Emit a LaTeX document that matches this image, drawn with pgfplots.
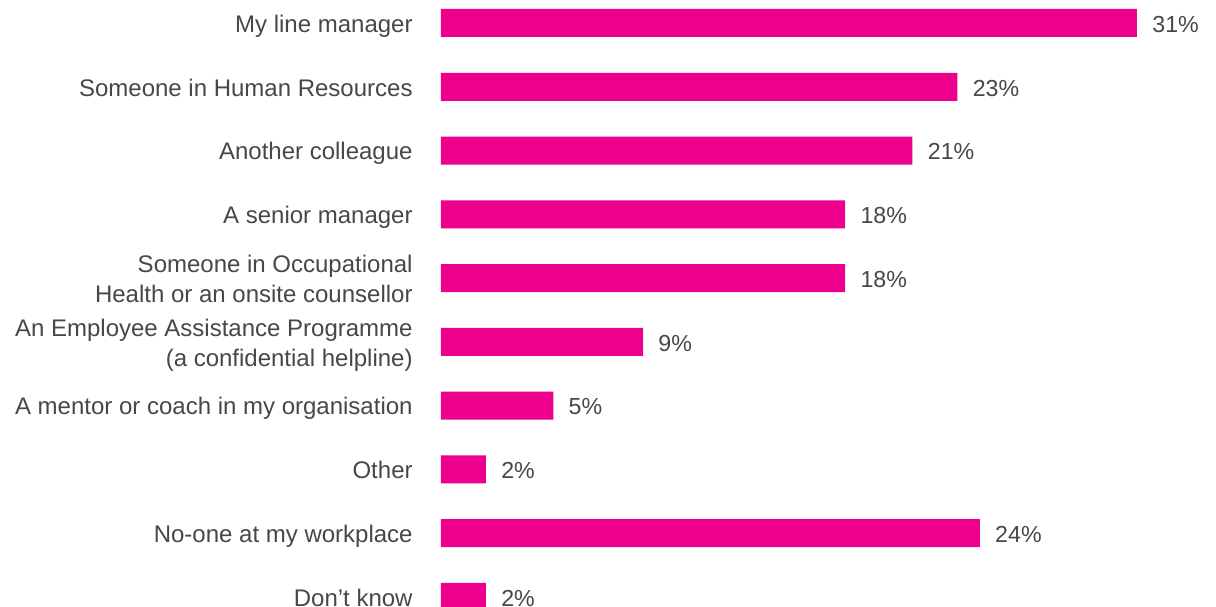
\documentclass[border=0pt]{standalone}
\usepackage{fontspec}
\setmainfont{Liberation Sans}
\usepackage{pgfplots}
\pgfplotsset{compat=1.18}
\definecolor{barpink}{HTML}{EC008C}
\definecolor{txt}{HTML}{474747}
\newcommand{\two}[2]{\raisebox{7.5pt}{\begin{tabular}[t]{@{}r@{}}#1\\#2\end{tabular}}}
\begin{document}
\begin{tikzpicture}
\begin{axis}[
  scale only axis,
  width=348pt, height=303.5pt,
  xbar, bar width=14pt,
  xmin=0, xmax=31,
  ymin=-0.3606, ymax=9.157,
  y dir=reverse,
  axis line style={draw=none},
  xtick=\empty,
  ytick={0,1,2,3,4,5,6,7,8,9},
  yticklabels={My line manager,Someone in Human Resources,Another colleague,A senior manager,{\two{Someone in Occupational}{Health or an onsite counsellor}},{\two{An Employee Assistance Programme}{(a confidential helpline)}},A mentor or coach in my organisation,Other,No-one at my workplace,Don’t know},
  major tick length=0pt,
  yticklabel style={anchor=base east, yshift=-4.65pt, font=\fontsize{12}{15}\selectfont, text=txt, inner sep=0pt},
  yticklabel shift=14pt,
  clip=false,
  point meta=explicit symbolic,
  nodes near coords,
  every node near coord/.append style={font=\fontsize{11.6}{13}\selectfont, text=txt, inner sep=0pt, xshift=7.5pt, yshift=-4.65pt, anchor=base west},
]
\addplot[fill=barpink, draw=none] coordinates {
(31,0) [31\%]
(23,1) [23\%]
(21,2) [21\%]
(18,3) [18\%]
(18,4) [18\%]
(9,5) [9\%]
(5,6) [5\%]
(2,7) [2\%]
(24,8) [24\%]
(2,9) [2\%]
};
\coordinate (bl) at (rel axis cs:0,0);
\coordinate (tr) at (rel axis cs:1,1);
\end{axis}
\pgfresetboundingbox
\path ([xshift=-220.5pt]bl) rectangle ([xshift=39.5pt]tr);
\end{tikzpicture}
\end{document}
